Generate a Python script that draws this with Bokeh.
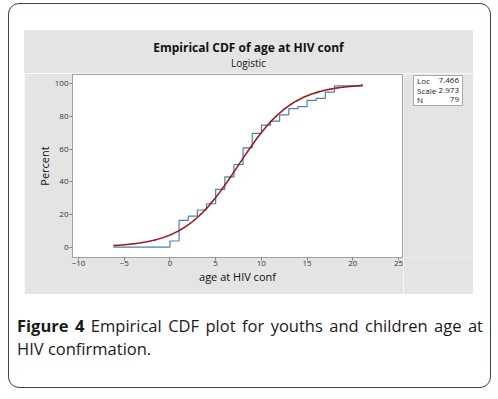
import numpy as np
from bokeh.plotting import figure
from bokeh.layouts import row, column
from bokeh.models import FixedTicker, Range1d, Div
from bokeh.core.properties import value
from bokeh.embed import file_html
from bokeh.resources import INLINE

# ---- data ----
ages = [0, 1, 2, 3, 4, 5, 6, 7, 8, 9, 10, 11, 12, 13, 14, 15, 16, 17, 18, 21]
cum_counts = [3, 13, 15, 18, 21, 28, 34, 40, 48, 55, 59, 61, 64, 67, 68, 71, 72, 75, 78, 79]
N = 79
LOC = 7.466
SCALE = 2.973
x_start = -6.2   # 1st percentile of fitted logistic (where the plot starts)
x_end = 21.1     # 99th percentile
x_ticks = [-10, -5, 0, 5, 10, 15, 20, 25]
y_ticks = [0, 20, 40, 60, 80, 100]
legend_names = ["Loc", "Scale", "N"]
legend_values = ["7.466", "2.973", "79"]
title_text = "Empirical CDF of age at HIV conf"
subtitle_text = "Logistic"
caption_label = "Figure 4"
caption_line1 = "Empirical CDF plot for youths and children age at"
caption_line2 = "HIV confirmation."

step_x = [x_start] + ages
step_y = [0.0] + [c / N * 100 for c in cum_counts]
curve_x = np.linspace(x_start, x_end, 300)
curve_y = 100.0 / (1.0 + np.exp(-(curve_x - LOC) / SCALE))

FONT = "Open Sans"
GRAY = "#e4e4e4"

# ---- title strip (top of the grey panel) ----
titles = Div(text=(f'<div style="padding-top:10px;line-height:16px;font-size:12px;'
                   f'font-weight:bold;">{title_text}</div>'
                   f'<div style="line-height:14px;font-size:10px;">{subtitle_text}</div>'),
             width=449, height=43, margin=(0, 0, 0, 15),
             styles={"background-color": GRAY, "font-family": FONT, "color": "#111111",
                     "text-align": "center"})

# ---- main plot ----
p = figure(width=379, height=221, output_backend="svg", toolbar_location=None,
           x_range=Range1d(-10.66, 25.44), y_range=Range1d(-6.3, 105.7),
           min_border_left=48, min_border_right=1, min_border_top=1, min_border_bottom=37,
           background_fill_color="white", border_fill_color=GRAY,
           outline_line_color="#a0a0a0")
p.xgrid.visible = False
p.ygrid.visible = False

p.step(step_x, step_y, mode="after", line_color="#4d7fb2", line_width=1.2)
p.line(curve_x, curve_y, line_color="#9e1a1a", line_width=1.6)

for ax in (p.xaxis[0], p.yaxis[0]):
    ax.axis_line_color = "#a0a0a0"
    ax.major_tick_line_color = "#808080"
    ax.major_tick_out = 3
    ax.major_tick_in = 0
    ax.minor_tick_line_color = None
    ax.major_label_text_font = FONT
    ax.major_label_text_font_size = "8px"
    ax.major_label_text_color = "#333333"
    ax.axis_label_text_font = FONT
    ax.axis_label_text_font_size = "11px"
    ax.axis_label_text_font_style = "normal"
    ax.axis_label_text_color = "#111111"
    ax.axis_label_standoff = 0

p.xaxis.ticker = FixedTicker(ticks=x_ticks)
p.yaxis.ticker = FixedTicker(ticks=y_ticks)
p.xaxis.axis_label = "age at HIV conf"
p.yaxis.axis_label = "Percent"
p.xaxis.major_label_standoff = 0
p.yaxis.major_label_standoff = 1

# ---- parameter box (right part of the grey panel); y measured downward in px ----
q = figure(width=70, height=221, output_backend="svg", toolbar_location=None,
           x_range=Range1d(0, 70), y_range=Range1d(183, 0),
           min_border_left=0, min_border_right=0, min_border_top=1, min_border_bottom=37,
           x_axis_location=None, y_axis_location=None,
           background_fill_color=GRAY, border_fill_color=GRAY, outline_line_color=None)
q.xgrid.visible = False
q.ygrid.visible = False
q.quad(left=[10], right=[59], top=[1], bottom=[31], fill_color="white",
       line_color="#a8a8a8", line_width=1)
rows_y = [6, 16, 25]
q.text(x=[13.5] * 3, y=rows_y, text=legend_names, text_align="left",
       text_baseline="middle", text_font=value(FONT), text_font_size="8px",
       text_color="#222222")
q.text(x=[55.5] * 3, y=rows_y, text=legend_values, text_align="right",
       text_baseline="middle", text_font=value(FONT), text_font_size="8px",
       text_color="#222222")

panel = row(p, q, spacing=0, margin=(0, 0, 0, 15))

caption = Div(text=(f"<b>{caption_label}</b> <span>{caption_line1}</span> "
                    f"<span>{caption_line2}</span>"),
              width=466, height=46, margin=(21, 0, 0, 8),
              styles={"font-family": FONT, "font-size": "16.5px", "line-height": "22.5px",
                      "text-align": "justify", "color": "#1a1a1a"})

layout = column(titles, panel, caption, spacing=0, width=483, height=385,
                margin=(3, 0, 0, 8),
                styles={"border": "1px solid #2d4463", "border-radius": "11px",
                        "padding-top": "26px", "background-color": "white",
                        "box-sizing": "border-box"})

open("out.html", "w").write(file_html(layout, INLINE))
